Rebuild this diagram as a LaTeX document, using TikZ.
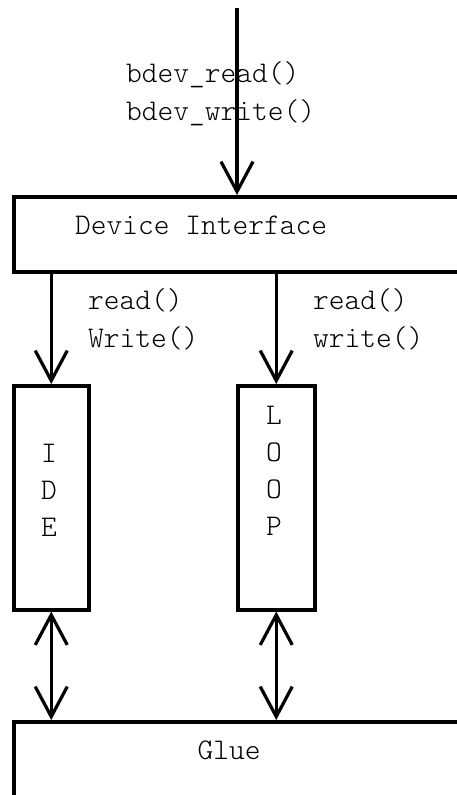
\documentclass[tikz,border=0pt]{standalone}
\usepackage{fontspec}
\setmonofont{Latin Modern Mono Light}
\usetikzlibrary{arrows.meta}
\begin{document}
\begin{tikzpicture}[x=1pt,y=-1pt,
  box/.style={draw, line width=3.5pt, rectangle, inner sep=0pt, anchor=north west},
  lbl/.style={font=\ttfamily\fontsize{30}{38}\selectfont, inner sep=0pt, align=left},
  vtxt/.style={font=\ttfamily\fontsize{30}{37}\selectfont, inner sep=0pt, align=center},
  barb/.tip={Straight Barb[length=30pt,width=32pt,line width=3.2pt]},
  arr/.style={line width=3.2pt, -barb},
  darr/.style={line width=3.2pt, barb-barb}]
\useasboundingbox (0,0) rectangle (457,795);
\clip (0,0) rectangle (457,795);

% layers
\node[box, minimum width=480, minimum height=75] (dev) at (12,195) {};
\node[box, minimum width=75, minimum height=224] (ide) at (12,384) {};
\node[box, minimum width=77, minimum height=224] (loop) at (236,384) {};
\node[box, minimum width=480, minimum height=100] (glue) at (12,720) {};

% layer names
\node[lbl, anchor=west] (devname) at (75,225) {Device Interface};
\node[lbl] (gluename) at (229,750) {Glue};
\node[vtxt] (idename) at (49,490) {I\\D\\E};
\node[vtxt] (loopname) at (274,471) {L\\O\\O\\P};

% calls
\coordinate (src) at (237,8);
\draw[arr] (src) -- (src |- dev.north);
\draw[arr] (ide.north |- dev.south) -- (ide.north);
\draw[arr] (loop.north |- dev.south) -- (loop.north);
\draw[darr] (ide.south) -- (ide.south |- glue.north);
\draw[darr] (loop.south) -- (loop.south |- glue.north);

% call labels
\node[lbl, anchor=west] (bdevcalls) at (126,94) {bdev\_read()\\bdev\_write()};
\node[lbl, anchor=west] (idecalls) at (88,319) {read()\\Write()};
\node[lbl, anchor=west] (loopcalls) at (313,319) {read()\\write()};
\end{tikzpicture}
\end{document}
